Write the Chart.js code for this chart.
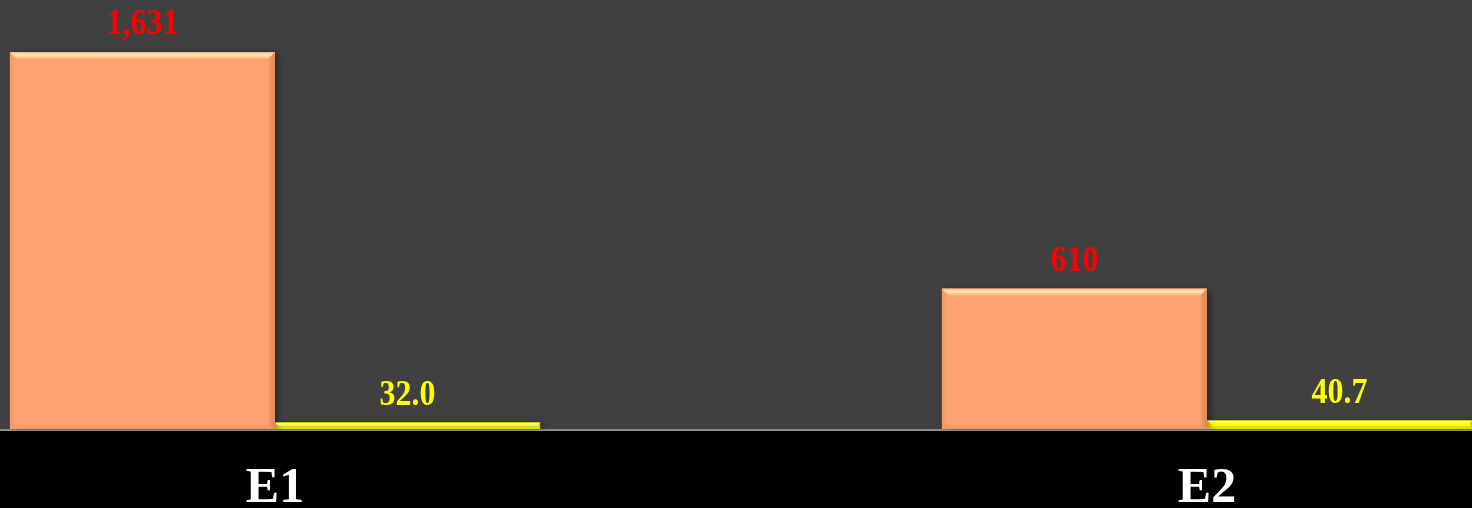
<!DOCTYPE html>
<html>
<head>
<meta charset="utf-8">
<script src="https://cdn.jsdelivr.net/npm/chart.js@4.4.1/dist/chart.umd.min.js"></script>
<style>
  html, body { margin: 0; padding: 0; background: #000; overflow: hidden; width: 1472px; height: 508px; }
  #wrap { position: absolute; left: -191px; top: 0; width: 1864px; height: 508px; }
</style>
</head>
<body>
<div id="wrap"><canvas id="c" width="1864" height="508"></canvas></div>
<script>
const categories = ['E1', 'E2'];
const seriesA = [1631, 610];
const seriesB = [32.0, 40.7];
const gridValues = [0, 1000];

const FONT = "'Liberation Serif', 'Times New Roman', serif";

const plotBg = {
  id: 'plotBg',
  beforeDraw(chart) {
    const { ctx, chartArea: a } = chart;
    ctx.save();
    ctx.fillStyle = '#000000';
    ctx.fillRect(0, 0, chart.width, chart.height);
    ctx.fillStyle = '#404040';
    ctx.fillRect(a.left, a.top, a.right - a.left, a.bottom - a.top);
    ctx.restore();
  }
};

const shadowPlugin = {
  id: 'shadowPlugin',
  beforeDatasetsDraw(chart) {
    const ctx = chart.ctx;
    ctx.save();
    ctx.shadowColor = 'rgba(0,0,0,0.4)';
    ctx.shadowBlur = 6;
    ctx.shadowOffsetX = 3;
    ctx.shadowOffsetY = 1;
  },
  afterDatasetsDraw(chart) {
    chart.ctx.restore();
  }
};

const bevelColors = [
  { top: ['#FFEAB0', '#FFB07C'], left: 'rgba(200,100,60,0.12)', right: 'rgba(170,80,40,0.28)', bottom: 'rgba(170,80,40,0.10)', b: 7 },
  { top: ['#FFFFB0', '#F4F400'], left: 'rgba(150,150,0,0.25)', right: 'rgba(130,130,0,0.4)', bottom: 'rgba(130,130,0,0.25)', b: 3 }
];

const bevel = {
  id: 'bevel',
  afterDatasetsDraw(chart) {
    const ctx = chart.ctx;
    chart.data.datasets.forEach((ds, di) => {
      const meta = chart.getDatasetMeta(di);
      const cfg = bevelColors[di];
      meta.data.forEach(el => {
        const L = el.x - el.width / 2, R = el.x + el.width / 2;
        const T = el.y, B = el.base;
        const h = B - T;
        const b = Math.min(cfg.b, h / 2);
        const s = Math.min(4, b);
        ctx.save();
        const g = ctx.createLinearGradient(0, T, 0, T + b);
        g.addColorStop(0, cfg.top[1]);
        g.addColorStop(0.4, cfg.top[0]);
        g.addColorStop(1, cfg.top[1]);
        ctx.fillStyle = g;
        ctx.beginPath();
        ctx.moveTo(L, T); ctx.lineTo(R, T); ctx.lineTo(R - b, T + b); ctx.lineTo(L + b, T + b); ctx.closePath();
        ctx.fill();
        ctx.fillStyle = cfg.left;
        ctx.beginPath();
        ctx.moveTo(L, T); ctx.lineTo(L + s, T + b); ctx.lineTo(L + s, B - s); ctx.lineTo(L, B); ctx.closePath();
        ctx.fill();
        const gr = ctx.createLinearGradient(R - b, 0, R, 0);
        gr.addColorStop(0, 'rgba(0,0,0,0)');
        gr.addColorStop(1, cfg.right);
        ctx.fillStyle = gr;
        ctx.beginPath();
        ctx.moveTo(R, T); ctx.lineTo(R - b, T + b); ctx.lineTo(R - b, B - s); ctx.lineTo(R, B); ctx.closePath();
        ctx.fill();
        ctx.fillStyle = cfg.bottom;
        ctx.beginPath();
        ctx.moveTo(L, B); ctx.lineTo(L + s, B - s); ctx.lineTo(R - b, B - s); ctx.lineTo(R, B); ctx.closePath();
        ctx.fill();
        ctx.restore();
      });
    });
  }
};

const labelColors = ['#FF0000', '#FFFF00'];
const labelFormat = [
  v => v.toLocaleString('en-US'),
  v => v.toFixed(1)
];

const dataLabels = {
  id: 'dataLabels',
  afterDatasetsDraw(chart) {
    const ctx = chart.ctx;
    chart.data.datasets.forEach((ds, di) => {
      const meta = chart.getDatasetMeta(di);
      meta.data.forEach((el, i) => {
        ctx.save();
        ctx.font = 'bold 32px ' + FONT;
        ctx.textAlign = 'center';
        ctx.textBaseline = 'alphabetic';
        ctx.fillStyle = labelColors[di];
        ctx.translate(el.x, el.y - 18);
        ctx.scale(1, 1.1);
        ctx.fillText(labelFormat[di](ds.data[i]), 0, 0);
        ctx.restore();
      });
    });
  }
};

new Chart(document.getElementById('c'), {
  type: 'bar',
  data: {
    labels: categories,
    datasets: [
      { data: seriesA, backgroundColor: '#FFA26F', borderWidth: 0, barPercentage: 1.0, categoryPercentage: 0.569 },
      { data: seriesB, backgroundColor: '#FFFF00', borderWidth: 0, barPercentage: 1.0, categoryPercentage: 0.569 }
    ]
  },
  options: {
    responsive: false,
    animation: false,
    devicePixelRatio: 1,
    layout: { padding: 0 },
    plugins: { legend: { display: false }, tooltip: { enabled: false } },
    scales: {
      x: {
        grid: { display: false, drawTicks: false },
        border: { display: false },
        ticks: { color: '#FFFFFF', font: { family: FONT, size: 50, weight: 'bold' }, padding: 29, maxRotation: 0 },
        afterFit(scale) { scale.height = 78; }
      },
      y: {
        min: 0,
        max: 1855,
        ticks: { display: false, stepSize: 1000 },
        border: { display: false },
        grid: {
          drawTicks: false,
          lineWidth: 2,
          color: c => gridValues.includes(c.tick.value) ? '#8C8C8C' : 'rgba(0,0,0,0)'
        }
      }
    }
  },
  plugins: [plotBg, shadowPlugin, bevel, dataLabels]
});
</script>
</body>
</html>
